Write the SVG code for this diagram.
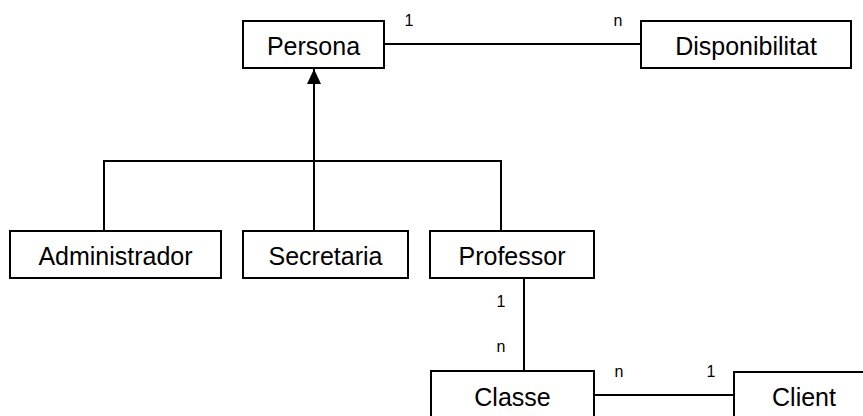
<svg xmlns="http://www.w3.org/2000/svg" width="863" height="416" viewBox="0 0 863 416">
<style>
.box{fill:#fff;stroke:#000;stroke-width:2}
.name{font-family:"Liberation Sans",Arial,sans-serif;font-size:25px;fill:#000;text-anchor:middle}
.lbl{font-family:"Liberation Sans",Arial,sans-serif;font-size:16px;fill:#000;text-anchor:middle}
.ln{fill:none;stroke:#000;stroke-width:2}
</style>
<defs>
<marker id="tri" markerWidth="16" markerHeight="16" refX="15" refY="7" orient="auto" markerUnits="userSpaceOnUse">
<path d="M0,0 L15,7 L0,14 Z" fill="#000"/>
</marker>
</defs>
<rect width="863" height="416" fill="#fff"/>
<g id="connectors">
<line class="ln" x1="384" y1="44" x2="641" y2="44"/>
<path class="ln" d="M104,231 V161 H501 V231"/>
<line class="ln" x1="314" y1="231" x2="314" y2="69" marker-end="url(#tri)"/>
<line class="ln" x1="524" y1="278" x2="524" y2="371"/>
<line class="ln" x1="594" y1="395" x2="734" y2="395"/>
<text class="lbl" x="409" y="26">1</text>
<text class="lbl" x="618" y="26">n</text>
<text class="lbl" x="501" y="307">1</text>
<text class="lbl" x="501" y="352">n</text>
<text class="lbl" x="619" y="377">n</text>
<text class="lbl" x="711" y="377">1</text>
</g>
<g id="persona"><rect class="box" x="243" y="21" width="141" height="47"/><text class="name" x="313.5" y="55">Persona</text></g>
<g id="disponibilitat"><rect class="box" x="641" y="21" width="210" height="47"/><text class="name" x="746" y="55">Disponibilitat</text></g>
<g id="administrador"><rect class="box" x="10" y="231" width="211" height="47"/><text class="name" x="115.5" y="265">Administrador</text></g>
<g id="secretaria"><rect class="box" x="243" y="231" width="165" height="47"/><text class="name" x="325.5" y="265">Secretaria</text></g>
<g id="professor"><rect class="box" x="430" y="231" width="164" height="47"/><text class="name" x="512" y="265">Professor</text></g>
<g id="classe"><rect class="box" x="431" y="371" width="163" height="50"/><text class="name" x="512.5" y="406">Classe</text></g>
<g id="client"><rect class="box" x="734" y="372" width="140" height="50"/><text class="name" x="804" y="406">Client</text></g>
</svg>
